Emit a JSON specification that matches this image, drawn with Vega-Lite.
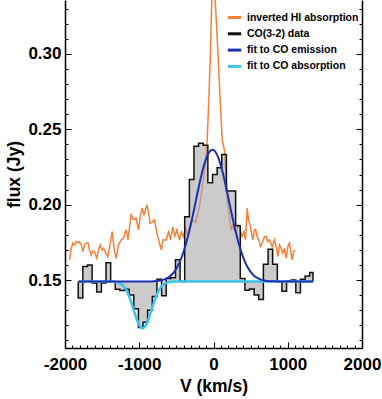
{
  "$schema": "https://vega.github.io/schema/vega-lite/v6.json",
  "width": 297,
  "height": 348,
  "autosize": {"type": "none"},
  "padding": {"left": 65, "top": 0, "right": 20, "bottom": 51},
  "background": "white",
  "config": {
    "view": {"stroke": null},
    "axis": {
      "labelFont": "Liberation Sans", "labelFontWeight": "bold", "labelFontSize": 17, "labelColor": "#000",
      "titleFont": "Liberation Sans", "titleFontWeight": "bold", "titleFontSize": 17.5, "titleColor": "#000",
      "domainColor": "#000", "domainWidth": 1.5, "tickColor": "#000", "tickWidth": 1, "grid": false
    },
    "legend": {
      "orient": "none", "legendX": 161, "legendY": 9, "padding": 0,
      "symbolType": "stroke", "symbolSize": 180, "symbolStrokeWidth": 3,
      "labelFont": "Liberation Sans", "labelFontSize": 10.5, "labelFontWeight": "bold", "labelColor": "#000",
      "rowPadding": 1.3, "labelOffset": 4
    }
  },
  "datasets": {
    "co": [
      {"i": 0, "v": -1822, "f": 0.149, "e": 1},
      {"i": 1, "v": -1822, "f": 0.138, "e": 0},
      {"i": 2, "v": -1760, "f": 0.159, "e": 0},
      {"i": 3, "v": -1697, "f": 0.160, "e": 0},
      {"i": 4, "v": -1635, "f": 0.148, "e": 0},
      {"i": 5, "v": -1573, "f": 0.142, "e": 0},
      {"i": 6, "v": -1510, "f": 0.148, "e": 0},
      {"i": 7, "v": -1448, "f": 0.1615, "e": 0},
      {"i": 8, "v": -1385, "f": 0.149, "e": 0},
      {"i": 9, "v": -1323, "f": 0.1438, "e": 0},
      {"i": 10, "v": -1261, "f": 0.143, "e": 0},
      {"i": 11, "v": -1198, "f": 0.1438, "e": 0},
      {"i": 12, "v": -1136, "f": 0.140, "e": 0},
      {"i": 13, "v": -1074, "f": 0.131, "e": 0},
      {"i": 14, "v": -1011, "f": 0.1185, "e": 0},
      {"i": 15, "v": -949, "f": 0.122, "e": 0},
      {"i": 16, "v": -887, "f": 0.130, "e": 0},
      {"i": 17, "v": -824, "f": 0.139, "e": 0},
      {"i": 18, "v": -762, "f": 0.1505, "e": 0},
      {"i": 19, "v": -699, "f": 0.1395, "e": 0},
      {"i": 20, "v": -637, "f": 0.151, "e": 0},
      {"i": 21, "v": -575, "f": 0.1515, "e": 0},
      {"i": 22, "v": -512, "f": 0.1635, "e": 0},
      {"i": 23, "v": -450, "f": 0.149, "e": 0},
      {"i": 24, "v": -388, "f": 0.192, "e": 0},
      {"i": 25, "v": -325, "f": 0.2167, "e": 0},
      {"i": 26, "v": -263, "f": 0.2387, "e": 0},
      {"i": 27, "v": -201, "f": 0.2407, "e": 0},
      {"i": 28, "v": -138, "f": 0.2395, "e": 0},
      {"i": 29, "v": -76, "f": 0.2145, "e": 0},
      {"i": 30, "v": -13, "f": 0.220, "e": 0},
      {"i": 31, "v": 49, "f": 0.2245, "e": 0},
      {"i": 32, "v": 111, "f": 0.2333, "e": 0},
      {"i": 33, "v": 174, "f": 0.209, "e": 0},
      {"i": 34, "v": 236, "f": 0.209, "e": 0},
      {"i": 35, "v": 298, "f": 0.186, "e": 0},
      {"i": 36, "v": 361, "f": 0.151, "e": 0},
      {"i": 37, "v": 423, "f": 0.1433, "e": 0},
      {"i": 38, "v": 485, "f": 0.144, "e": 0},
      {"i": 39, "v": 548, "f": 0.140, "e": 0},
      {"i": 40, "v": 610, "f": 0.137, "e": 0},
      {"i": 41, "v": 672, "f": 0.1605, "e": 0},
      {"i": 42, "v": 735, "f": 0.1705, "e": 0},
      {"i": 43, "v": 797, "f": 0.1605, "e": 0},
      {"i": 44, "v": 860, "f": 0.149, "e": 0},
      {"i": 45, "v": 922, "f": 0.1425, "e": 0},
      {"i": 46, "v": 984, "f": 0.1495, "e": 0},
      {"i": 47, "v": 1047, "f": 0.150, "e": 0},
      {"i": 48, "v": 1109, "f": 0.1415, "e": 0},
      {"i": 49, "v": 1171, "f": 0.1505, "e": 0},
      {"i": 50, "v": 1234, "f": 0.1527, "e": 0},
      {"i": 51, "v": 1296, "f": 0.155, "e": 0},
      {"i": 52, "v": 1340, "f": 0.155, "e": 0},
      {"i": 53, "v": 1340, "f": 0.149, "e": 1}
    ],
    "hi": [
      {"v": -1940, "f": 0.1633}, {"v": -1919, "f": 0.170}, {"v": -1895, "f": 0.1745}, {"v": -1872, "f": 0.1733},
      {"v": -1849, "f": 0.1755}, {"v": -1825, "f": 0.1747}, {"v": -1805, "f": 0.1755}, {"v": -1782, "f": 0.1733},
      {"v": -1760, "f": 0.1688}, {"v": -1738, "f": 0.1733}, {"v": -1715, "f": 0.1745}, {"v": -1690, "f": 0.1747},
      {"v": -1670, "f": 0.170}, {"v": -1647, "f": 0.1666}, {"v": -1626, "f": 0.1692}, {"v": -1603, "f": 0.1686},
      {"v": -1572, "f": 0.1644}, {"v": -1549, "f": 0.170}, {"v": -1526, "f": 0.1733}, {"v": -1502, "f": 0.170},
      {"v": -1482, "f": 0.1711}, {"v": -1455, "f": 0.1686}, {"v": -1424, "f": 0.1655}, {"v": -1394, "f": 0.1733},
      {"v": -1364, "f": 0.1822}, {"v": -1340, "f": 0.1713}, {"v": -1311, "f": 0.1644}, {"v": -1280, "f": 0.1733},
      {"v": -1243, "f": 0.1766}, {"v": -1212, "f": 0.178}, {"v": -1176, "f": 0.1833}, {"v": -1152, "f": 0.1766},
      {"v": -1109, "f": 0.1933}, {"v": -1078, "f": 0.19}, {"v": -1041, "f": 0.191}, {"v": -1010, "f": 0.1833},
      {"v": -983, "f": 0.1933}, {"v": -960, "f": 0.1978}, {"v": -936, "f": 0.1933}, {"v": -916, "f": 0.1966},
      {"v": -898, "f": 0.20}, {"v": -876, "f": 0.1952}, {"v": -853, "f": 0.1876}, {"v": -822, "f": 0.1885},
      {"v": -795, "f": 0.19}, {"v": -761, "f": 0.1811}, {"v": -727, "f": 0.1745}, {"v": -704, "f": 0.170},
      {"v": -680, "f": 0.1766}, {"v": -637, "f": 0.1766}, {"v": -606, "f": 0.1819}, {"v": -579, "f": 0.1766},
      {"v": -548, "f": 0.1852}, {"v": -519, "f": 0.1792}, {"v": -492, "f": 0.1833}, {"v": -458, "f": 0.1766},
      {"v": -431, "f": 0.1819}, {"v": -404, "f": 0.1789}, {"v": -377, "f": 0.1845}, {"v": -350, "f": 0.18},
      {"v": -322, "f": 0.185}, {"v": -282, "f": 0.19}, {"v": -242, "f": 0.188}, {"v": -189, "f": 0.1987},
      {"v": -144, "f": 0.2145}, {"v": -110, "f": 0.226}, {"v": -85, "f": 0.243}, {"v": -63, "f": 0.2695},
      {"v": -40, "f": 0.3027}, {"v": -23, "f": 0.336}, {"v": 0, "f": 0.38}, {"v": 23, "f": 0.336},
      {"v": 58, "f": 0.3027}, {"v": 90, "f": 0.2695}, {"v": 117, "f": 0.2429}, {"v": 148, "f": 0.2363},
      {"v": 192, "f": 0.2}, {"v": 238, "f": 0.183},
      {"v": 255, "f": 0.186}, {"v": 280, "f": 0.1833}, {"v": 306, "f": 0.181}, {"v": 330, "f": 0.1866},
      {"v": 357, "f": 0.1833}, {"v": 384, "f": 0.1789}, {"v": 411, "f": 0.1822}, {"v": 431, "f": 0.1766},
      {"v": 454, "f": 0.1978}, {"v": 471, "f": 0.190}, {"v": 492, "f": 0.1866}, {"v": 512, "f": 0.1811},
      {"v": 529, "f": 0.1766}, {"v": 552, "f": 0.1833}, {"v": 570, "f": 0.1833}, {"v": 586, "f": 0.1789},
      {"v": 610, "f": 0.1767}, {"v": 633, "f": 0.1722}, {"v": 664, "f": 0.1755}, {"v": 687, "f": 0.1789},
      {"v": 710, "f": 0.1789}, {"v": 731, "f": 0.1755}, {"v": 754, "f": 0.1767}, {"v": 791, "f": 0.172},
      {"v": 822, "f": 0.1767}, {"v": 845, "f": 0.1722}, {"v": 866, "f": 0.1655}, {"v": 889, "f": 0.1733},
      {"v": 912, "f": 0.1711}, {"v": 933, "f": 0.1678}, {"v": 956, "f": 0.1711}, {"v": 979, "f": 0.1645},
      {"v": 1001, "f": 0.1722}, {"v": 1024, "f": 0.1745}, {"v": 1044, "f": 0.1678}, {"v": 1060, "f": 0.1633},
      {"v": 1078, "f": 0.1689}, {"v": 1098, "f": 0.170}
    ],
    "emi": [
      {"v": -1815, "f": 0.149}, {"v": -900, "f": 0.14904}, {"v": -800, "f": 0.1492}, {"v": -700, "f": 0.14985},
      {"v": -650, "f": 0.15063}, {"v": -600, "f": 0.15198}, {"v": -550, "f": 0.15418}, {"v": -500, "f": 0.15758},
      {"v": -450, "f": 0.1625}, {"v": -400, "f": 0.16924}, {"v": -350, "f": 0.1779}, {"v": -300, "f": 0.1882},
      {"v": -250, "f": 0.1997}, {"v": -200, "f": 0.2114}, {"v": -150, "f": 0.2221}, {"v": -100, "f": 0.2305},
      {"v": -50, "f": 0.2354}, {"v": -15, "f": 0.2365}, {"v": 0, "f": 0.2363}, {"v": 50, "f": 0.2329},
      {"v": 100, "f": 0.2258}, {"v": 150, "f": 0.2159}, {"v": 200, "f": 0.2044}, {"v": 250, "f": 0.1927},
      {"v": 300, "f": 0.1818}, {"v": 350, "f": 0.1725}, {"v": 400, "f": 0.165}, {"v": 450, "f": 0.1593},
      {"v": 500, "f": 0.1554}, {"v": 550, "f": 0.1527}, {"v": 600, "f": 0.1511}, {"v": 650, "f": 0.1501},
      {"v": 700, "f": 0.14956}, {"v": 800, "f": 0.14912}, {"v": 900, "f": 0.14902}, {"v": 1340, "f": 0.149}
    ],
    "abs": [
      {"v": -1815, "f": 0.149}, {"v": -1400, "f": 0.14895}, {"v": -1350, "f": 0.14886}, {"v": -1300, "f": 0.1485},
      {"v": -1250, "f": 0.14749}, {"v": -1200, "f": 0.14514}, {"v": -1150, "f": 0.14072}, {"v": -1100, "f": 0.13406},
      {"v": -1050, "f": 0.12634}, {"v": -1000, "f": 0.1201}, {"v": -955, "f": 0.118}, {"v": -900, "f": 0.1211},
      {"v": -850, "f": 0.12786}, {"v": -800, "f": 0.13554}, {"v": -750, "f": 0.1418}, {"v": -700, "f": 0.14576},
      {"v": -650, "f": 0.14777}, {"v": -600, "f": 0.14861}, {"v": -550, "f": 0.1489}, {"v": -500, "f": 0.149},
      {"v": 1340, "f": 0.149}
    ]
  },
  "layer": [
    {
      "data": {"name": "hi"},
      "mark": {"type": "line", "strokeWidth": 1.5, "clip": true},
      "encoding": {
        "x": {"field": "v", "type": "quantitative", "scale": {"domain": [-2000, 2000], "nice": false},
          "axis": {"orient": "bottom", "title": "V (km/s)", "titlePadding": 2,
            "values": [-2000,-1900,-1800,-1700,-1600,-1500,-1400,-1300,-1200,-1100,-1000,-900,-800,-700,-600,-500,-400,-300,-200,-100,0,100,200,300,400,500,600,700,800,900,1000,1100,1200,1300,1400,1500,1600,1700,1800,1900,2000],
            "labelExpr": "datum.value % 1000 === 0 ? '' + datum.value : ''",
            "labelOverlap": false, "labelFlush": false, "labelPadding": 14,
            "tickSize": {"condition": {"test": "datum.value % 1000 === 0", "value": -6}, "value": -3}}},
        "y": {"field": "f", "type": "quantitative", "scale": {"domain": [0.1049, 0.3358], "nice": false, "zero": false},
          "axis": {"title": "flux (Jy)", "titlePadding": 4,
            "values": [0.11,0.12,0.13,0.14,0.15,0.16,0.17,0.18,0.19,0.2,0.21,0.22,0.23,0.24,0.25,0.26,0.27,0.28,0.29,0.3,0.31,0.32,0.33],
            "labelExpr": "round(datum.value*100) % 5 === 0 ? format(datum.value, '.2f') : ''",
            "labelOverlap": false, "labelPadding": 10,
            "tickSize": {"condition": {"test": "round(datum.value*100) % 5 === 0", "value": -6}, "value": -3}}},
        "color": {"datum": "inverted HI absorption",
          "scale": {"domain": ["inverted HI absorption", "CO(3-2) data", "fit to CO emission", "fit to CO absorption"],
                    "range": ["#f4803a", "#111111", "#1f2fb5", "#3cc4e8"]},
          "legend": {"title": null}}
      }
    },
    {
      "data": {"name": "co"},
      "transform": [{"filter": "datum.e !== 1"}],
      "mark": {"type": "area", "interpolate": "step-after", "fill": "#a8a8a8", "fillOpacity": 0.6, "clip": true},
      "encoding": {
        "x": {"field": "v", "type": "quantitative", "scale": {"domain": [-2000, 2000], "nice": false},
          "axis": {"orient": "bottom", "title": "V (km/s)", "titlePadding": 2,
            "values": [-2000,-1900,-1800,-1700,-1600,-1500,-1400,-1300,-1200,-1100,-1000,-900,-800,-700,-600,-500,-400,-300,-200,-100,0,100,200,300,400,500,600,700,800,900,1000,1100,1200,1300,1400,1500,1600,1700,1800,1900,2000],
            "labelExpr": "datum.value % 1000 === 0 ? '' + datum.value : ''",
            "labelOverlap": false, "labelFlush": false, "labelPadding": 14,
            "tickSize": {"condition": {"test": "datum.value % 1000 === 0", "value": -6}, "value": -3}}},
        "y": {"field": "f", "type": "quantitative", "scale": {"domain": [0.1049, 0.3358], "nice": false, "zero": false},
          "axis": {"orient": "right", "title": null, "labels": false,
            "values": [0.11,0.12,0.13,0.14,0.15,0.16,0.17,0.18,0.19,0.2,0.21,0.22,0.23,0.24,0.25,0.26,0.27,0.28,0.29,0.3,0.31,0.32,0.33],
            "tickSize": {"condition": {"test": "round(datum.value*100) % 5 === 0", "value": -6}, "value": -3}}},
        "y2": {"datum": 0.149}
      }
    },
    {
      "data": {"name": "co"},
      "mark": {"type": "line", "interpolate": "step-after", "strokeWidth": 1.5, "clip": true},
      "encoding": {
        "x": {"field": "v", "type": "quantitative", "scale": {"domain": [-2000, 2000], "nice": false},
          "axis": {"orient": "bottom", "title": "V (km/s)", "titlePadding": 2,
            "values": [-2000,-1900,-1800,-1700,-1600,-1500,-1400,-1300,-1200,-1100,-1000,-900,-800,-700,-600,-500,-400,-300,-200,-100,0,100,200,300,400,500,600,700,800,900,1000,1100,1200,1300,1400,1500,1600,1700,1800,1900,2000],
            "labelExpr": "datum.value % 1000 === 0 ? '' + datum.value : ''",
            "labelOverlap": false, "labelFlush": false, "labelPadding": 14,
            "tickSize": {"condition": {"test": "datum.value % 1000 === 0", "value": -6}, "value": -3}}},
        "y": {"field": "f", "type": "quantitative", "scale": {"domain": [0.1049, 0.3358], "nice": false, "zero": false}, "axis": null},
        "order": {"field": "i", "type": "quantitative"},
        "color": {"datum": "CO(3-2) data"}
      }
    },
    {
      "data": {"name": "abs"},
      "mark": {"type": "line", "interpolate": "monotone", "strokeWidth": 2.5, "clip": true},
      "encoding": {
        "x": {"field": "v", "type": "quantitative", "scale": {"domain": [-2000, 2000], "nice": false},
          "axis": {"orient": "bottom", "title": "V (km/s)", "titlePadding": 2,
            "values": [-2000,-1900,-1800,-1700,-1600,-1500,-1400,-1300,-1200,-1100,-1000,-900,-800,-700,-600,-500,-400,-300,-200,-100,0,100,200,300,400,500,600,700,800,900,1000,1100,1200,1300,1400,1500,1600,1700,1800,1900,2000],
            "labelExpr": "datum.value % 1000 === 0 ? '' + datum.value : ''",
            "labelOverlap": false, "labelFlush": false, "labelPadding": 14,
            "tickSize": {"condition": {"test": "datum.value % 1000 === 0", "value": -6}, "value": -3}}},
        "y": {"field": "f", "type": "quantitative", "scale": {"domain": [0.1049, 0.3358], "nice": false, "zero": false}, "axis": null},
        "color": {"datum": "fit to CO absorption"}
      }
    },
    {
      "data": {"name": "emi"},
      "mark": {"type": "line", "interpolate": "monotone", "strokeWidth": 2, "clip": true},
      "encoding": {
        "x": {"field": "v", "type": "quantitative", "scale": {"domain": [-2000, 2000], "nice": false},
          "axis": {"orient": "bottom", "title": "V (km/s)", "titlePadding": 2,
            "values": [-2000,-1900,-1800,-1700,-1600,-1500,-1400,-1300,-1200,-1100,-1000,-900,-800,-700,-600,-500,-400,-300,-200,-100,0,100,200,300,400,500,600,700,800,900,1000,1100,1200,1300,1400,1500,1600,1700,1800,1900,2000],
            "labelExpr": "datum.value % 1000 === 0 ? '' + datum.value : ''",
            "labelOverlap": false, "labelFlush": false, "labelPadding": 14,
            "tickSize": {"condition": {"test": "datum.value % 1000 === 0", "value": -6}, "value": -3}}},
        "y": {"field": "f", "type": "quantitative", "scale": {"domain": [0.1049, 0.3358], "nice": false, "zero": false}, "axis": null},
        "color": {"datum": "fit to CO emission"}
      }
    }
  ],
  "resolve": {"axis": {"x": "shared", "y": "independent"}}
}
